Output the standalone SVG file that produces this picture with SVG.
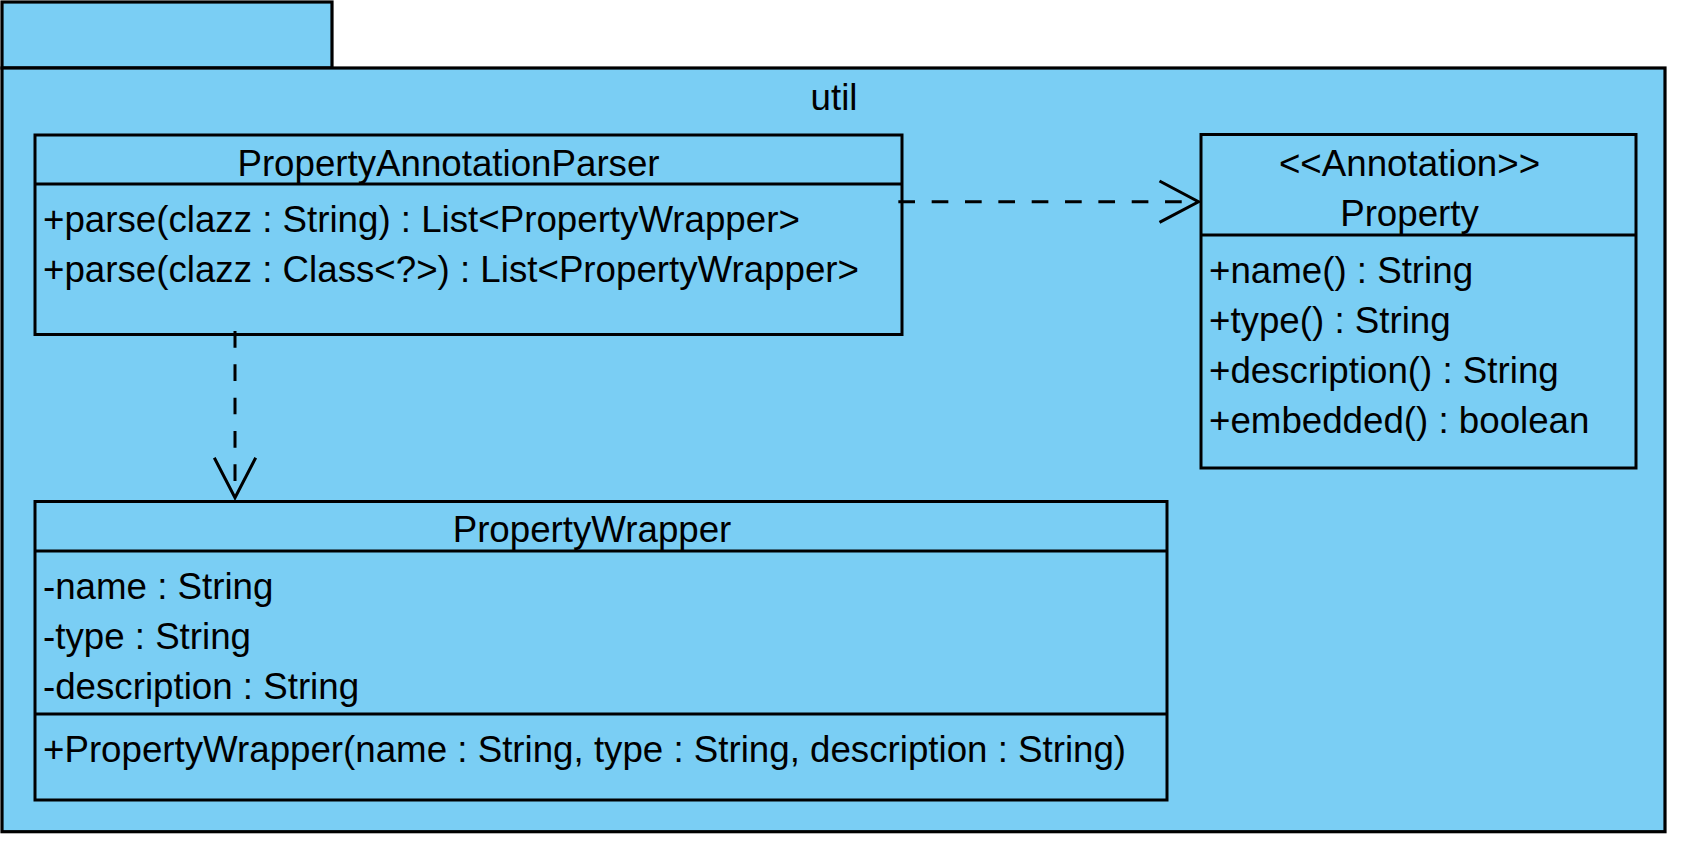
<svg xmlns="http://www.w3.org/2000/svg" width="1682" height="848" viewBox="0 0 1682 848">
<style>
.pkg{fill:#7ACEF4;stroke:#000;stroke-width:3.2}
.box{fill:#7ACEF4;stroke:#000;stroke-width:3}
.sep{stroke:#000;stroke-width:3}
text{font-family:"Liberation Sans",Arial,sans-serif;font-size:36.7px;fill:#000}
.c{text-anchor:middle}
.dash{fill:none;stroke:#000;stroke-width:3;stroke-dasharray:16.67 16.67}
.head{fill:none;stroke:#000;stroke-width:3;stroke-linejoin:miter}
</style>
<rect width="1682" height="848" fill="#fff"/>
<g id="package-util">
<rect class="pkg" x="2" y="2" width="330" height="66"/>
<rect class="pkg" x="2" y="68" width="1663" height="763.7"/>
<text class="c" x="834" y="110">util</text>
</g>
<g id="PropertyAnnotationParser">
<rect class="box" x="35" y="135" width="867" height="199.5"/>
<line class="sep" x1="35" y1="184" x2="902" y2="184"/>
<text class="c" x="448.5" y="176">PropertyAnnotationParser</text>
<text x="43" y="232">+parse(clazz : String) : List&lt;PropertyWrapper&gt;</text>
<text x="43" y="282">+parse(clazz : Class&lt;?&gt;) : List&lt;PropertyWrapper&gt;</text>
</g>
<g id="Property">
<rect class="box" x="1201" y="134.5" width="435" height="333.5"/>
<line class="sep" x1="1201" y1="235" x2="1636" y2="235"/>
<text class="c" x="1409.5" y="176">&lt;&lt;Annotation&gt;&gt;</text>
<text class="c" x="1409.5" y="226">Property</text>
<text x="1209" y="282.5">+name() : String</text>
<text x="1209" y="332.5">+type() : String</text>
<text x="1209" y="382.5">+description() : String</text>
<text x="1209" y="432.5">+embedded() : boolean</text>
</g>
<g id="PropertyWrapper">
<rect class="box" x="35" y="501.5" width="1132" height="298.5"/>
<line class="sep" x1="35" y1="551" x2="1167" y2="551"/>
<line class="sep" x1="35" y1="714" x2="1167" y2="714"/>
<text class="c" x="592" y="542">PropertyWrapper</text>
<text x="43" y="599">-name : String</text>
<text x="43" y="649">-type : String</text>
<text x="43" y="699">-description : String</text>
<text x="43" y="762">+PropertyWrapper(name : String, type : String, description : String)</text>
</g>
<g id="connectors">
<line class="dash" x1="898.33" y1="201.7" x2="1198.3" y2="201.7"/>
<polyline class="head" points="1159.5,181 1198.5,201.7 1159.5,222.4"/>
<line class="dash" x1="235" y1="331" x2="235" y2="497.7"/>
<polyline class="head" points="214.3,457.7 235,497.7 255.7,457.7"/>
</g>
</svg>
